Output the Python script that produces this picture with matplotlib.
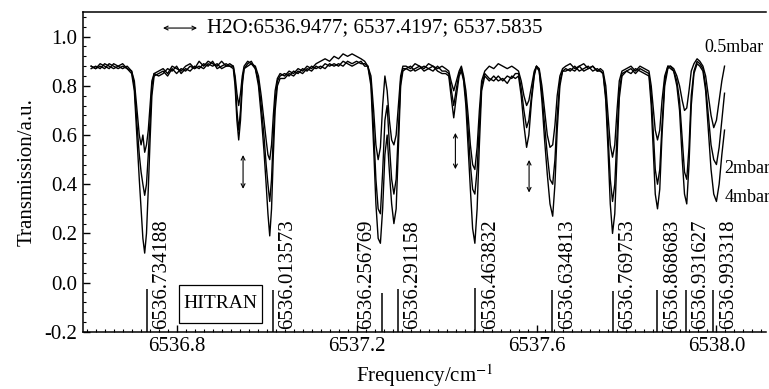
import matplotlib
matplotlib.use("Agg")
import matplotlib.pyplot as plt
from matplotlib.patches import Rectangle
from matplotlib.ticker import MultipleLocator, FormatStrFormatter

plt.rcParams['font.family'] = ['Liberation Serif', 'DejaVu Serif']
plt.rcParams['mathtext.fontset'] = 'stix'
plt.rcParams['axes.unicode_minus'] = False

# frequency grid (cm^-1)
freq = [
    6536.610, 6536.620, 6536.630, 6536.640, 6536.650, 6536.660, 6536.670, 6536.680, 6536.690,
    6536.700, 6536.706, 6536.712, 6536.717, 6536.721, 6536.725, 6536.729, 6536.733, 6536.737, 6536.741, 6536.745, 6536.750,
    6536.760, 6536.770, 6536.780, 6536.790, 6536.800, 6536.810, 6536.820, 6536.830, 6536.840, 6536.850, 6536.860, 6536.870, 6536.880, 6536.890, 6536.900, 6536.910, 6536.918,
    6536.926, 6536.930, 6536.934, 6536.938, 6536.942, 6536.946, 6536.950, 6536.958, 6536.966,
    6536.975, 6536.982, 6536.988, 6536.994, 6536.999, 6537.003, 6537.007, 6537.011, 6537.015, 6537.019, 6537.024, 6537.030,
    6537.040, 6537.050, 6537.060, 6537.070, 6537.080, 6537.090, 6537.100, 6537.110, 6537.120, 6537.130, 6537.140, 6537.150, 6537.160, 6537.170, 6537.180, 6537.190, 6537.200, 6537.210, 6537.218,
    6537.225, 6537.232, 6537.238, 6537.243, 6537.248, 6537.253, 6537.258, 6537.263, 6537.268, 6537.273, 6537.278, 6537.283, 6537.288, 6537.293, 6537.298, 6537.303,
    6537.310, 6537.320, 6537.330, 6537.340, 6537.350, 6537.360, 6537.370, 6537.380, 6537.390, 6537.398,
    6537.405, 6537.410, 6537.416, 6537.422, 6537.428, 6537.433,
    6537.438, 6537.443, 6537.448, 6537.453, 6537.458, 6537.463, 6537.468, 6537.473, 6537.478, 6537.485,
    6537.495, 6537.505, 6537.515, 6537.525, 6537.535, 6537.545, 6537.553,
    6537.560, 6537.566, 6537.572, 6537.578, 6537.583, 6537.589, 6537.595, 6537.600,
    6537.606, 6537.612, 6537.618, 6537.624, 6537.630, 6537.636, 6537.641, 6537.646, 6537.652, 6537.658,
    6537.665, 6537.675, 6537.685, 6537.695, 6537.705, 6537.715, 6537.725, 6537.735, 6537.742,
    6537.748, 6537.754, 6537.759, 6537.764, 6537.769, 6537.774, 6537.779, 6537.784, 6537.790,
    6537.800, 6537.810, 6537.820, 6537.830, 6537.840,
    6537.850, 6537.855, 6537.860, 6537.864, 6537.869, 6537.874, 6537.879, 6537.885, 6537.892, 6537.898,
    6537.905, 6537.912, 6537.918, 6537.924, 6537.929, 6537.934, 6537.939, 6537.944, 6537.950, 6537.957,
    6537.963, 6537.970, 6537.976, 6537.982, 6537.988, 6537.994, 6538.000, 6538.006, 6538.012, 6538.018,
]

t_05mbar = [
    0.88, 0.87, 0.89, 0.88, 0.87, 0.89, 0.88, 0.87, 0.88,
    0.86, 0.82, 0.70, 0.60, 0.56, 0.60, 0.53, 0.56, 0.62, 0.72, 0.82, 0.85,
    0.86, 0.87, 0.85, 0.88, 0.87, 0.86, 0.88, 0.89, 0.87, 0.90, 0.88, 0.90, 0.89, 0.88, 0.90, 0.88, 0.89,
    0.88, 0.84, 0.77, 0.72, 0.77, 0.84, 0.88, 0.90, 0.89,
    0.88, 0.84, 0.76, 0.66, 0.58, 0.52, 0.50, 0.56, 0.68, 0.78, 0.83, 0.85,
    0.84, 0.86, 0.85, 0.87, 0.86, 0.88, 0.87, 0.89, 0.90, 0.91, 0.90, 0.92, 0.91, 0.93, 0.92, 0.93, 0.92, 0.91, 0.90,
    0.88, 0.84, 0.70, 0.56, 0.50, 0.55, 0.72, 0.84, 0.78, 0.66, 0.58, 0.56, 0.60, 0.72, 0.84, 0.88,
    0.88, 0.87, 0.89, 0.88, 0.87, 0.89, 0.88, 0.87, 0.88, 0.87,
    0.86, 0.82, 0.78, 0.82, 0.86, 0.88,
    0.84, 0.78, 0.68, 0.56, 0.48, 0.46, 0.55, 0.70, 0.82, 0.86,
    0.88, 0.87, 0.89, 0.88, 0.87, 0.88, 0.87,
    0.86, 0.82, 0.76, 0.72, 0.74, 0.80, 0.86, 0.88,
    0.87, 0.80, 0.70, 0.60, 0.55, 0.56, 0.64, 0.76, 0.84, 0.87,
    0.88, 0.89, 0.87, 0.88, 0.89, 0.87, 0.88, 0.86, 0.87,
    0.86, 0.80, 0.68, 0.56, 0.51, 0.56, 0.70, 0.82, 0.86,
    0.87, 0.88, 0.86, 0.88, 0.87,
    0.86, 0.80, 0.70, 0.62, 0.58, 0.62, 0.74, 0.84, 0.88, 0.88,
    0.87, 0.84, 0.80, 0.74, 0.70, 0.71, 0.78, 0.86, 0.89, 0.91,
    0.90, 0.88, 0.84, 0.76, 0.68, 0.63, 0.66, 0.74, 0.82, 0.88,
]

t_2mbar = [
    0.87, 0.88, 0.87, 0.89, 0.88, 0.87, 0.88, 0.89, 0.87,
    0.86, 0.80, 0.64, 0.52, 0.45, 0.40, 0.355, 0.40, 0.52, 0.66, 0.80, 0.85,
    0.84, 0.85, 0.87, 0.86, 0.88, 0.85, 0.87, 0.86, 0.88, 0.87, 0.89, 0.88, 0.90, 0.87, 0.88, 0.89, 0.88,
    0.88, 0.82, 0.70, 0.62, 0.70, 0.82, 0.87, 0.89, 0.90,
    0.87, 0.82, 0.72, 0.60, 0.48, 0.40, 0.33, 0.42, 0.60, 0.74, 0.82, 0.84,
    0.85, 0.84, 0.86, 0.85, 0.87, 0.86, 0.88, 0.87, 0.88, 0.87, 0.89, 0.88, 0.89, 0.88, 0.90, 0.89, 0.90, 0.89, 0.89,
    0.88, 0.82, 0.62, 0.42, 0.30, 0.28, 0.45, 0.66, 0.72, 0.56, 0.42, 0.36, 0.42, 0.62, 0.82, 0.87,
    0.87, 0.88, 0.86, 0.87, 0.88, 0.87, 0.86, 0.88, 0.86, 0.86,
    0.85, 0.79, 0.72, 0.79, 0.85, 0.87,
    0.83, 0.75, 0.62, 0.48, 0.38, 0.36, 0.46, 0.64, 0.80, 0.85,
    0.83, 0.82, 0.84, 0.82, 0.84, 0.83, 0.85,
    0.85, 0.79, 0.70, 0.63, 0.66, 0.76, 0.85, 0.88,
    0.86, 0.77, 0.64, 0.52, 0.42, 0.40, 0.50, 0.68, 0.82, 0.86,
    0.87, 0.86, 0.88, 0.86, 0.87, 0.88, 0.86, 0.87, 0.86,
    0.85, 0.76, 0.60, 0.42, 0.33, 0.40, 0.60, 0.78, 0.85,
    0.86, 0.87, 0.85, 0.87, 0.86,
    0.85, 0.76, 0.60, 0.46, 0.40, 0.46, 0.64, 0.82, 0.88, 0.87,
    0.86, 0.82, 0.74, 0.58, 0.45, 0.42, 0.55, 0.76, 0.86, 0.90,
    0.89, 0.87, 0.80, 0.68, 0.56, 0.50, 0.48, 0.55, 0.66, 0.77,
]

t_4mbar = [
    0.88, 0.87, 0.88, 0.87, 0.89, 0.88, 0.87, 0.88, 0.87,
    0.85, 0.78, 0.58, 0.42, 0.30, 0.18, 0.12, 0.20, 0.38, 0.58, 0.76, 0.84,
    0.85, 0.86, 0.84, 0.87, 0.85, 0.87, 0.86, 0.88, 0.87, 0.88, 0.87, 0.89, 0.88, 0.89, 0.87, 0.88, 0.88,
    0.87, 0.80, 0.66, 0.58, 0.66, 0.80, 0.87, 0.88, 0.89,
    0.87, 0.80, 0.68, 0.54, 0.40, 0.28, 0.19, 0.30, 0.52, 0.70, 0.80, 0.83,
    0.83, 0.85, 0.84, 0.86, 0.85, 0.87, 0.86, 0.88, 0.87, 0.89, 0.88, 0.89, 0.88, 0.90, 0.89, 0.88, 0.89, 0.90, 0.88,
    0.88, 0.80, 0.55, 0.32, 0.18, 0.16, 0.30, 0.52, 0.60, 0.45, 0.32, 0.24, 0.30, 0.55, 0.80, 0.86,
    0.87, 0.86, 0.87, 0.88, 0.86, 0.87, 0.88, 0.86, 0.85, 0.85,
    0.84, 0.76, 0.67, 0.76, 0.84, 0.86,
    0.82, 0.72, 0.55, 0.38, 0.22, 0.16, 0.30, 0.56, 0.78, 0.84,
    0.82, 0.84, 0.82, 0.83, 0.81, 0.84, 0.83,
    0.84, 0.76, 0.64, 0.55, 0.60, 0.74, 0.84, 0.88,
    0.86, 0.74, 0.58, 0.44, 0.32, 0.27, 0.40, 0.62, 0.80, 0.86,
    0.86, 0.87, 0.86, 0.88, 0.86, 0.87, 0.88, 0.86, 0.86,
    0.85, 0.74, 0.54, 0.32, 0.20, 0.28, 0.52, 0.75, 0.84,
    0.86, 0.85, 0.87, 0.86, 0.85,
    0.84, 0.72, 0.52, 0.36, 0.30, 0.38, 0.60, 0.80, 0.87, 0.88,
    0.86, 0.80, 0.70, 0.50, 0.36, 0.32, 0.48, 0.72, 0.85, 0.89,
    0.88, 0.86, 0.78, 0.62, 0.46, 0.36, 0.33, 0.40, 0.52, 0.62,
]

# HITRAN line positions and the labels as printed in the figure
hitran_pos = [6536.734188, 6537.013573, 6537.256769, 6537.291158, 6537.463832,
              6537.634813, 6537.769753, 6537.868683, 6537.931627, 6537.993318]
hitran_labels = ['6536.734188', '6536.013573', '6536.256769', '6536.291158', '6536.463832',
                 '6536.634813', '6536.769753', '6536.868683', '6536.931627', '6536.993318']
hitran_top = [-0.027, -0.031, -0.041, -0.027, -0.023, -0.030, -0.035, -0.030, -0.030, -0.030]

# H2O lines marked by double arrows
h2o_pos = [6536.9477, 6537.4197, 6537.5835]
h2o_arrow_top = [0.53, 0.62, 0.51]
h2o_arrow_bot = [0.37, 0.45, 0.355]

fig = plt.figure(figsize=(7.69, 3.89), dpi=100)
ax = fig.add_axes([0.108, 0.147, 0.888, 0.822])

for t in (t_05mbar, t_2mbar, t_4mbar):
    ax.plot(freq, t, color='black', lw=1.0)

ax.vlines(hitran_pos, -0.2, hitran_top, color='black', lw=1.1)
for i, (p, lab) in enumerate(zip(hitran_pos, hitran_labels)):
    if i == 2:
        ax.annotate(lab, xy=(p, -0.19), xytext=(-4, 0), textcoords='offset points',
                    rotation=90, ha='right', va='bottom', fontsize=15)
    else:
        ax.annotate(lab, xy=(p, -0.19), xytext=(4, 0), textcoords='offset points',
                    rotation=90, ha='left', va='bottom', fontsize=15)

for p, y1, y0 in zip(h2o_pos, h2o_arrow_top, h2o_arrow_bot):
    ax.annotate('', xy=(p, y1), xytext=(p, y0),
                arrowprops=dict(arrowstyle='<->', lw=0.8, mutation_scale=7, color='black'))

# legend-like arrow with the H2O line list
ax.annotate('', xy=(0.171, 0.95), xytext=(0.113, 0.95), xycoords='axes fraction',
            arrowprops=dict(arrowstyle='<->', lw=0.8, mutation_scale=7, color='black'))
ax.text(0.1815, 0.95, 'H2O:6536.9477; 6537.4197; 6537.5835', transform=ax.transAxes,
        ha='left', va='center', fontsize=15)

# HITRAN box
ax.add_patch(Rectangle((6536.805, -0.164), 0.185, 0.155, fill=False, ec='black', lw=0.9))
ax.text(6536.8975, -0.084, 'HITRAN', ha='center', va='center', fontsize=14)

ax.text(6537.973, 0.955, '0.5mbar', ha='left', va='center', fontsize=13)
ax.text(6538.018, 0.464, '2mbar', ha='left', va='center', fontsize=13)
ax.text(6538.018, 0.346, '4mbar', ha='left', va='center', fontsize=13)

ax.set_xlim(6536.592, 6538.110)
ax.set_ylim(-0.2, 1.1)
ax.xaxis.set_major_locator(MultipleLocator(0.4))
ax.xaxis.set_minor_locator(MultipleLocator(0.02))
ax.yaxis.set_major_locator(MultipleLocator(0.2))
ax.yaxis.set_minor_locator(MultipleLocator(0.04))
ax.xaxis.set_major_formatter(FormatStrFormatter('%.1f'))
ax.yaxis.set_major_formatter(FormatStrFormatter('%.1f'))
ax.tick_params(which='both', direction='in', labelsize=15)
ax.tick_params(which='major', length=5, width=1)
ax.tick_params(which='minor', length=2.5, width=0.8)
ax.tick_params(axis='y', pad=4)
ax.tick_params(axis='x', pad=4)
ax.spines['right'].set_visible(False)
for s in ('left', 'bottom', 'top'):
    ax.spines[s].set_linewidth(1.1)

ax.set_xlabel('Frequency/cm$^{-1}$', fontsize=15, labelpad=4)
ax.set_ylabel('Transmission/a.u.', fontsize=15, labelpad=6)

fig.savefig('out.png', dpi=100)
